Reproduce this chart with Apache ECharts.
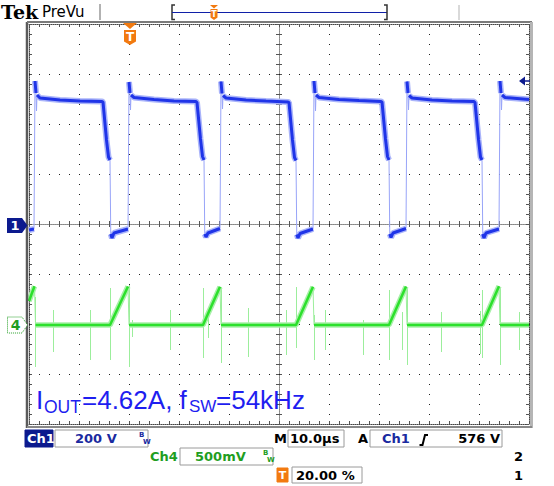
<!DOCTYPE html>
<html><head><meta charset="utf-8">
<script src="https://cdn.jsdelivr.net/npm/echarts@6/dist/echarts.min.js"></script>
<style>html,body{margin:0;padding:0;background:#fff}#c{width:554px;height:486px}</style>
</head><body><div id="c"></div>
<script>
// ---------- data (time in µs, Ch1 in V, Ch4 in mV) ----------
const ch1Time = [0, 1.0,
  1.2,1.4,1.5,1.6,2.2,6.2,10.2,14.6,14.8,15.5,15.9,16.2,16.35,16.6,17.0,19.8,
  20.0,20.2,20.3,20.4,21.0,25.0,29.0,33.4,33.6,34.3,34.7,35.0,35.15,35.4,35.8,38.2,
  38.4,38.6,38.7,38.8,39.4,43.4,47.4,51.8,52.0,52.7,53.1,53.4,53.55,53.8,54.2,56.8,
  57.0,57.2,57.3,57.4,58.0,62.0,66.0,70.4,70.6,71.3,71.7,72.0,72.15,72.4,72.8,75.4,
  75.6,75.8,75.9,76.0,76.6,80.6,84.6,89.0,89.2,89.9,90.3,90.6,90.75,91.0,91.4,94.0,
  94.2,94.4,94.5,94.6,95.2,100];
const ch1Volt = [-24,-20,
  572,524,452,516,504,496,492,490,488,336,268,256,-40,-56,-36,-20,
  568,524,456,516,506,498,492,490,486,340,270,256,-40,-52,-36,-18,
  570,522,460,514,504,496,492,488,486,336,266,254,-42,-56,-38,-20,
  572,524,452,516,506,498,494,490,488,340,270,256,-40,-54,-36,-18,
  570,524,456,514,504,496,492,490,486,338,268,256,-40,-56,-36,-20,
  572,524,456,516,506,498];

const ch4Time = [0,1.1,1.3,16.2,19.8,20.0,34.8,38.2,38.4,53.4,56.8,57.0,72.0,75.4,75.6,90.6,94.0,94.2,100];
const ch4MilliVolt = [230,378,-10,-10,375,-10,-10,372,-10,-10,372,-10,-10,375,-10,-10,378,-10,-10];

const spikeTime = [1.2,4.8,12.2,16.2,20.0,20.6,28.2,34.8,35.8,38.4,43.8,51.4,53.4,57.0,59.2,66.8,72.0,74.6,75.6,82.4,90.2,90.6,94.2,98.0];
const spikeHigh = [270,140,140,360,390,40,140,360,60,370,160,140,370,90,140,40,340,120,370,120,130,340,370,120];
const spikeLow  = [-430,-280,-360,-360,-430,-130,-260,-340,-140,-390,-330,-310,-240,-360,-260,-310,-360,-260,-410,-280,-300,-340,-410,-260];

const timeAxis = {min: 0, max: 100, step: 10};      // 10.0 µs/div
const ch1Axis  = {min: -800, max: 800, step: 200};   // 200 V/div
const ch4Axis  = {min: -1000, max: 3000, step: 500}; // 500 mV/div

// ---------- build ----------
function split(ts, vs, maxSlope) {
  const thin = ts.map((t, i) => [t, vs[i]]);
  const thick = [];
  for (let i = 0; i < ts.length; i++) {
    if (i > 0 && Math.abs((vs[i] - vs[i-1]) / (ts[i] - ts[i-1])) > maxSlope) thick.push([ts[i], '-']);
    thick.push([ts[i], vs[i]]);
  }
  return {thin, thick};
}
const c1 = split(ch1Time, ch1Volt, 500);
const c4 = split(ch4Time, ch4MilliVolt, 1000);
const spikes = spikeTime.map((t, i) => ({coords: [[t, spikeHigh[i]], [t, spikeLow[i]]]}));

const NAVY = '#0c1a8e', ORANGE = '#f27a10', GREEN_T = '#1f9e1f', BLUE_T = '#1e1ef0';
const F = '"DejaVu Sans"';
const border = {show: true, onZero: false, lineStyle: {color: '#444', width: 1, type: [1, 1]}};
const center = {show: true, onZero: false, lineStyle: {color: '#888', width: 1, type: [1, 1]}};
const tickIn = {show: true, inside: true, length: 3, lineStyle: {color: '#555'}};
const tickOut = {show: true, inside: false, length: 3, lineStyle: {color: '#555'}};
const minor = {show: true, splitNumber: 5, length: 3, lineStyle: {color: '#555'}};

function xa(extra) { return Object.assign({type: 'value', min: timeAxis.min, max: timeAxis.max, interval: timeAxis.step,
  axisLabel: {show: false}, splitLine: {show: false}, axisLine: border, axisTick: tickIn, minorTick: minor}, extra); }
function ya(ax, extra) { return Object.assign({type: 'value', min: ax.min, max: ax.max, interval: ax.step,
  axisLabel: {show: false}, splitLine: {show: false}, axisLine: border, axisTick: tickIn, minorTick: minor}, extra); }

// graticule: sparse dots on each division line, placed through the axis scales
function gridDots(params, api) {
  const kids = [];
  const dot = (p) => kids.push({type: 'rect', shape: {x: Math.round(p[0]), y: Math.round(p[1]), width: 1, height: 1}, style: {fill: '#222'}});
  const nx = (timeAxis.max - timeAxis.min) / timeAxis.step, ny = (ch1Axis.max - ch1Axis.min) / ch1Axis.step;
  for (let i = 1; i < nx; i++) {
    if (i * 2 === nx) continue;
    for (let j = 0; j <= ny * 5; j++) dot(api.coord([timeAxis.min + i * timeAxis.step, ch1Axis.min + j * ch1Axis.step / 5]));
  }
  for (let j = 1; j < ny; j++) {
    if (j * 2 === ny) continue;
    for (let i = 0; i <= nx * 5; i++) dot(api.coord([timeAxis.min + i * timeAxis.step / 5, ch1Axis.min + j * ch1Axis.step]));
  }
  return {type: 'group', children: kids};
}

function T(x, y, s, o) {
  return {type: 'text', x: x, y: y, z: 100, style: Object.assign({text: s, fill: '#000',
    font: 'bold 13px ' + F, verticalAlign: 'middle', align: 'left'}, o || {})};
}
function R(x, y, w, h, o) { return {type: 'rect', z: 99, shape: {x: x, y: y, width: w, height: h}, style: Object.assign({fill: '#fff', stroke: '#9a9a9a', lineWidth: 1}, o || {})}; }
function L(pts, o) { return {type: 'polyline', z: 99, shape: {points: pts}, style: Object.assign({stroke: '#777', lineWidth: 1, fill: null}, o || {})}; }
function P(pts, o) { return {type: 'polygon', z: 99, shape: {points: pts}, style: Object.assign({fill: ORANGE}, o || {})}; }

const graphics = [
  // frame
  L([[27, 22], [27, 428]], {stroke: '#5a5a5a', lineWidth: 2.5}),
  L([[27, 22], [532, 22]], {stroke: '#7a7a7a', lineWidth: 2}),
  L([[531.5, 22], [531.5, 428]], {stroke: '#b5b5b5', lineWidth: 3}),
  L([[27, 427], [532, 427]], {stroke: '#888', lineWidth: 2}),
  // top bar
  T(1, 12, 'Tek', {font: '900 19px "DejaVu Serif"'}),
  T(42, 12, 'PreVu', {font: '15px ' + F}),
  L([[100, 4], [100, 20]], {stroke: '#999', lineWidth: 1.5}),
  L([[175, 5], [172, 5], [172, 19.5], [175, 19.5]], {stroke: '#333', lineWidth: 1.5}),
  L([[172, 12.5], [387, 12.5]], {stroke: '#1020a8', lineWidth: 1.2}),
  L([[384, 5], [387, 5], [387, 19.5], [384, 19.5]], {stroke: '#333', lineWidth: 1.5}),
  P([[210, 5], [218, 5], [214, 8.5]]),
  P([[210.5, 9], [217.5, 9], [217.5, 17.5], [214, 20], [210.5, 17.5]]),
  T(214, 14, 'T', {fill: '#fff', font: 'bold 8px ' + F, align: 'center'}),
  L([[459, 5], [459, 20]], {stroke: '#ccc', lineWidth: 1.5}),
  // trigger position marker
  P([[123, 23], [137, 23], [130, 29]]),
  P([[124, 30], [136, 30], [136, 41.5], [130, 45], [124, 41.5]]),
  T(130, 37, 'T', {fill: '#fff', font: 'bold 12px ' + F, align: 'center'}),
  // channel markers
  P([[7, 218], [22, 218], [27.5, 225.5], [22, 233], [7, 233]], {fill: NAVY}),
  T(15, 225.5, '1', {fill: '#fff', font: 'bold 13px ' + F, align: 'center'}),
  P([[7.5, 317], [22, 317], [27.5, 325], [22, 333], [7.5, 333]], {fill: '#fff', stroke: '#2aa02a', lineWidth: 1, lineDash: [1, 1]}),
  T(15.5, 325, '4', {fill: '#1f9e1f', font: 'bold 14px ' + F, align: 'center'}),
  // trigger level arrow
  P([[519, 81], [525, 76.5], [525, 85.5]], {fill: NAVY}),
  L([[524, 81], [530, 81]], {stroke: NAVY, lineWidth: 1.5}),
  // annotation
  T(36, 399.5, 'I', {fill: BLUE_T, font: '26px "Liberation Sans"'}),
  T(44, 406.5, 'OUT', {fill: BLUE_T, font: '17.5px "Liberation Sans"'}),
  T(82, 399.5, '=4.62A, f', {fill: BLUE_T, font: '26px "Liberation Sans"'}),
  T(189, 406.5, 'SW', {fill: BLUE_T, font: '17px "Liberation Sans"'}),
  T(216, 399.5, '=54kHz', {fill: BLUE_T, font: '26px "Liberation Sans"'}),
  // status bar row 1
  R(25, 430, 28, 17, {fill: NAVY, stroke: NAVY}),
  T(27, 438.5, 'Ch1', {fill: '#fff'}),
  R(55, 430, 93, 17),
  T(75, 438.5, '200 V', {fill: '#1a2aa0'}),
  T(139, 435, 'B', {fill: '#1a2aa0', font: 'bold 7px ' + F}),
  T(143, 441.5, 'W', {fill: '#1a2aa0', font: 'bold 7px ' + F}),
  T(274, 438.5, 'M'),
  R(288, 430, 56, 17),
  T(290, 438.5, '10.0\u00b5s'),
  T(358, 438.5, 'A'),
  R(370, 430, 132, 17),
  T(382, 438.5, 'Ch1', {fill: '#1a2aa0'}),
  L([[419.5, 445], [422.5, 445], [425, 435], [428, 435]], {stroke: '#000', lineWidth: 2}),
  T(500, 438.5, '576 V', {align: 'right'}),
  // row 2
  T(150, 456.5, 'Ch4', {fill: GREEN_T}),
  R(180, 448, 93, 17),
  T(195, 456.5, '500mV', {fill: GREEN_T}),
  T(263, 453, 'B', {fill: GREEN_T, font: 'bold 7px ' + F}),
  T(267, 459.5, 'W', {fill: GREEN_T, font: 'bold 7px ' + F}),
  // row 3
  R(277, 468, 11, 14, {fill: ORANGE, stroke: ORANGE, r: 2}),
  T(282.5, 475, 'T', {fill: '#fff', font: 'bold 11px ' + F, align: 'center'}),
  R(292, 467, 70, 16),
  T(296, 475, '20.00 %'),
  T(514, 456.5, '2'),
  T(514, 475, '1')
];

const chart = echarts.init(document.getElementById('c'), null, {renderer: 'svg'});
chart.setOption({
  animation: false,
  backgroundColor: '#fff',
  grid: {left: 29, top: 24, width: 500, height: 400, containLabel: false, outerBoundsMode: 'none'},
  xAxis: [
    xa({position: 'bottom'}),
    xa({position: 'top'}),
    xa({position: 'bottom', offset: -200, axisLine: center, axisTick: tickIn}),
    xa({position: 'bottom', offset: -200, axisLine: center, axisTick: tickOut})
  ],
  yAxis: [
    ya(ch1Axis, {position: 'left'}),
    ya(ch4Axis, {position: 'right'}),
    ya(ch1Axis, {position: 'left', offset: -250, axisLine: center, axisTick: tickIn}),
    ya(ch1Axis, {position: 'left', offset: -250, axisLine: center, axisTick: tickOut})
  ],
  series: [
    {type: 'custom', xAxisIndex: 0, yAxisIndex: 0, data: [[timeAxis.min, ch1Axis.min]], renderItem: gridDots, z: 1, silent: true, clip: false},
    {type: 'lines', coordinateSystem: 'cartesian2d', xAxisIndex: 0, yAxisIndex: 1, data: spikes,
      lineStyle: {color: '#9cee9c', width: 1, opacity: 1}, z: 3, silent: true},
    {type: 'line', xAxisIndex: 0, yAxisIndex: 1, data: c4.thin, showSymbol: false, connectNulls: false,
      lineStyle: {color: '#9cee9c', width: 1}, z: 4},
    {type: 'line', xAxisIndex: 0, yAxisIndex: 1, data: c4.thick, showSymbol: false, connectNulls: false,
      lineStyle: {color: '#a8f0a8', width: 5.5}, z: 4},
    {type: 'line', xAxisIndex: 0, yAxisIndex: 1, data: c4.thick, showSymbol: false, connectNulls: false,
      lineStyle: {color: '#2ce02c', width: 2.5}, z: 5},
    {type: 'line', xAxisIndex: 0, yAxisIndex: 0, data: c1.thin, showSymbol: false, connectNulls: false,
      lineStyle: {color: '#98a4f8', width: 1}, z: 6},
    {type: 'line', xAxisIndex: 0, yAxisIndex: 0, data: c1.thick, showSymbol: false, connectNulls: false,
      lineStyle: {color: '#aab4fa', width: 6}, z: 6},
    {type: 'line', xAxisIndex: 0, yAxisIndex: 0, data: c1.thick, showSymbol: false, connectNulls: false,
      lineStyle: {color: '#1f34e8', width: 3}, z: 7}
  ],
  graphic: {elements: graphics}
});
</script>
</body></html>
